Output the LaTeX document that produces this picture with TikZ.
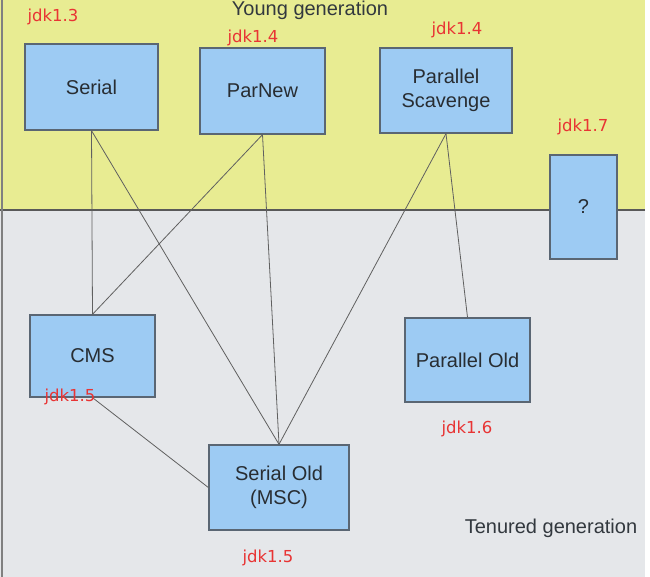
\documentclass[tikz,border=0pt]{standalone}
\usepackage{fontspec}
\setmainfont{Liberation Sans}
\newfontfamily\redfont{DejaVu Sans}
\definecolor{youngbg}{RGB}{232,236,146}
\definecolor{oldbg}{RGB}{229,231,234}
\definecolor{boxfill}{RGB}{157,203,243}
\definecolor{boxline}{RGB}{90,102,115}
\definecolor{gentext}{RGB}{50,56,62}
\definecolor{jdkred}{RGB}{232,52,52}
\begin{document}
\begin{tikzpicture}[x=1pt,y=-1pt,
    gcbox/.style={draw=boxline,line width=1.3pt,fill=boxfill,inner sep=0pt,align=center,
        text=gentext!80!black,font=\fontsize{20}{24}\selectfont},
    jdk/.style={anchor=base,inner sep=0pt,text=jdkred,font=\redfont\fontsize{16.5}{18}\selectfont},
    gen/.style={anchor=base,inner sep=0pt,text=gentext,font=\fontsize{20}{24}\selectfont},
    link/.style={draw=gray!75!black,line width=.8pt}]
    \useasboundingbox (0,0) rectangle (650,577);
    \fill[youngbg] (0,0) rectangle (645,210);
    \fill[oldbg] (0,210) rectangle (645,577);
    \draw[gray!70!black,line width=1.2pt] (0,210) -- (645,210);
    \draw[gray,line width=1.2pt] (2,0) -- (2,577);
    \node[gen] (young) at (310,16) {Young generation};
    \node[gen] (tenured) at (551,533) {Tenured generation};
    % collectors
    \node[gcbox,minimum width=133pt,minimum height=86pt] (serial) at (91.5,87) {Serial};
    \node[gcbox,minimum width=125pt,minimum height=86pt] (parnew) at (262.5,91) {ParNew};
    \node[gcbox,minimum width=132pt,minimum height=85pt] (pscav) at (446,90.5) {Parallel\\Scavenge};
    \node[gcbox,minimum width=67pt,minimum height=104pt] (gone) at (583.5,207) {?};
    \node[gcbox,minimum width=125pt,minimum height=82pt] (cms) at (92.5,356) {CMS};
    \node[gcbox,minimum width=125pt,minimum height=84pt] (parold) at (467.5,360) {Parallel Old};
    \node[gcbox,minimum width=140pt,minimum height=85pt] (serold) at (279,487.5) {Serial Old\\(MSC)};
    % links
    \draw[link] (serial.south) -- (cms.north);
    \draw[link] (serial.south) -- (serold.north);
    \draw[link] (parnew.south) -- (cms.north);
    \draw[link] (parnew.south) -- (serold.north);
    \draw[link] (pscav.south) -- (serold.north);
    \draw[link] (pscav.south) -- (parold.north);
    \draw[link] (cms.south) -- (serold.west);
    % versions
    \node[jdk] (v13) at (53,22) {jdk1.3};
    \node[jdk] (v14a) at (253,43) {jdk1.4};
    \node[jdk] (v14b) at (457,35) {jdk1.4};
    \node[jdk] (v17) at (583,132) {jdk1.7};
    \node[jdk] (v15a) at (70,401) {jdk1.5};
    \node[jdk] (v16) at (467,433) {jdk1.6};
    \node[jdk] (v15b) at (268,562) {jdk1.5};
\end{tikzpicture}
\end{document}
